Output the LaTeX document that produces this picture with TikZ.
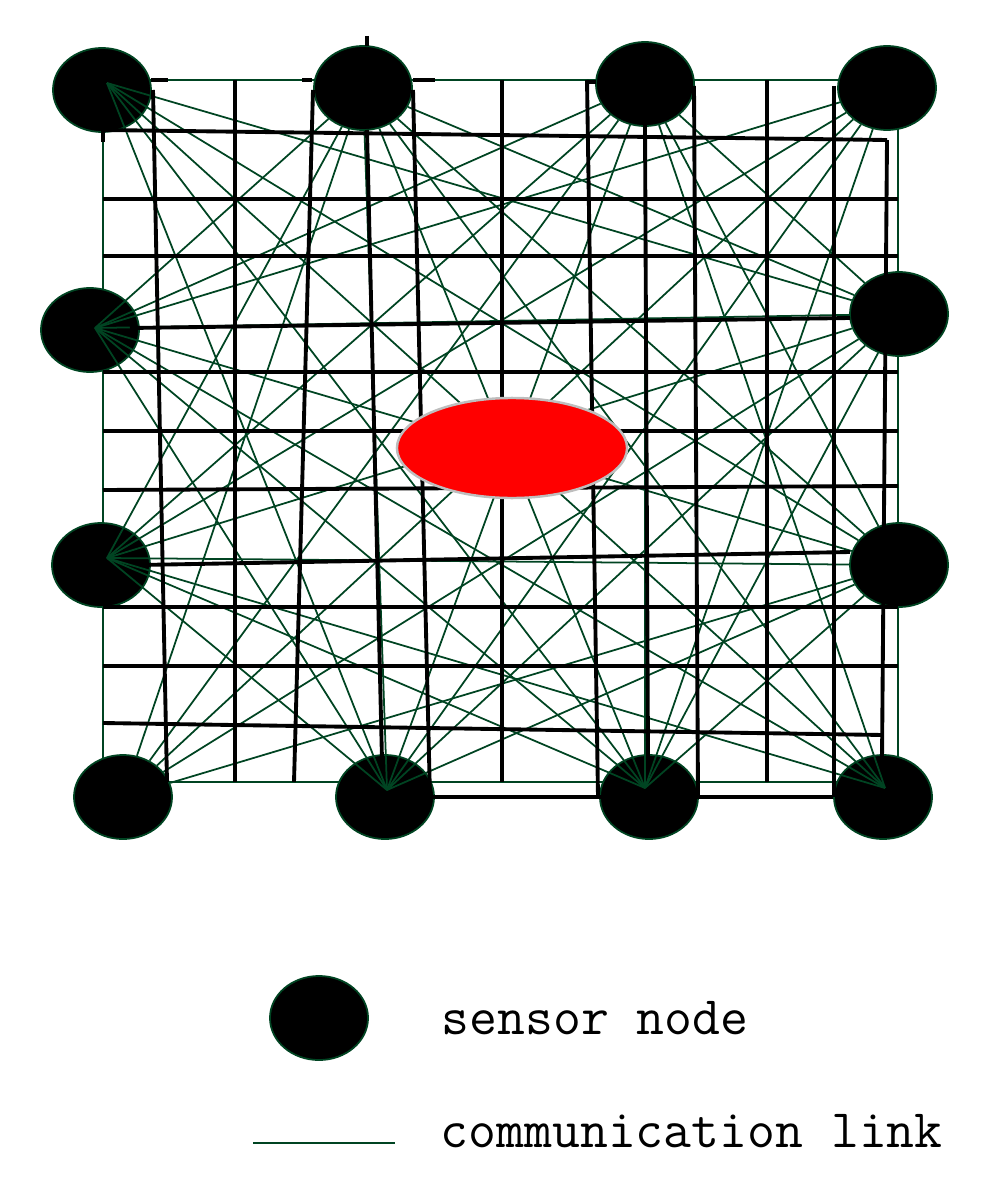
\documentclass[tikz,border=0pt]{standalone}
\usepackage{tikz}
\usetikzlibrary{positioning,shapes.geometric}
\definecolor{linkgreen}{RGB}{0,68,34}
\definecolor{rimgray}{RGB}{190,190,190}

\begin{document}
\begin{tikzpicture}[
x=0.01cm, y=-0.01cm,
sensor/.style={
  draw=linkgreen,
  ellipse,
  fill=black,
  line width=0.5pt,
  inner sep=0pt,
  minimum width=0.98cm,
  minimum height=0.84cm},
gridline/.style={line width=1.1pt},
link/.style={draw=linkgreen, line width=0.5pt},
legend/.style={font=\ttfamily\fontsize{15.4}{18}\selectfont, inner sep=0pt}
]
\useasboundingbox (0,0) rectangle (990,1197);
\draw[link] (103,80) rectangle (898,782);
% sensor nodes
\node[sensor] (T1) at (102,90) {};
\node[sensor] (T2) at (363,88) {};
\node[sensor] (T3) at (645,84) {};
\node[sensor] (T4) at (887,88) {};
\node[sensor] (L1) at (90,330) {};
\node[sensor] (L2) at (101,565) {};
\node[sensor] (R1) at (899,314) {};
\node[sensor] (R2) at (899,565) {};
\node[sensor] (B1) at (123,797) {};
\node[sensor] (B2) at (385,797) {};
\node[sensor] (B3) at (649,797) {};
\node[sensor] (B4) at (883,797) {};
\coordinate (T1c) at (107,83);
\coordinate (L1c) at (95,328);
\coordinate (L2c) at (107,558);
\coordinate (B2c) at (387,790);
\coordinate (B3c) at (645,788);
\coordinate (B4c) at (885,788);
% communication links
\foreach \a/\b in {T1c/R1, T1c/R2, T1c/B2c, T1c/B3c, T1c/B4c,
  T2/L1c, T2/L2c, T2/B1, T2/B2c, T2/B3c, T2/B4c, T2/R1, T2/R2,
  T3/L1c, T3/L2c, T3/B1, T3/B2c, T3/B3c, T3/B4c, T3/R1, T3/R2,
  T4/L1c, T4/L2c, T4/B1, T4/B2c, T4/B3c,
  L1c/R1, L1c/R2, L1c/B2c, L1c/B3c, L1c/B4c,
  L2c/R1, L2c/R2, L2c/B2c, L2c/B3c, L2c/B4c,
  R1/B1, R1/B2c, R1/B3c, R2/B1, R2/B2c, R2/B3c}
  \draw[link] (\a) -- (\b);
% grid
\foreach \y in {199,256,372,431,607,666}
  \draw[gridline] (103,\y) -- (898,\y);
\draw[gridline] (103,130) -- (887,140);
\draw[gridline] (103,490) -- (898,486);
\draw[gridline] (103,723) -- (883,735);
\draw[gridline] (130,328) -- (850,318);
\draw[gridline] (140,565) -- (850,552);
\draw[gridline] (433,797) -- (833,797);
\foreach \xa/\ya/\xb/\yb in {153/90/167/782, 235/80/235/782, 313/90/294/782,
  367/130/382/760, 413/90/430/797, 502/80/502/782, 587/80/598/797,
  645/125/648/757, 694/86/698/797, 767/80/767/782, 834/86/834/797,
  887/140/882/760}
  \draw[gridline] (\xa,\ya) -- (\xb,\yb);
\foreach \xa/\ya/\xb/\yb in {103/130/103/142, 151/80/168/80, 302/80/312/80,
  413/80/435/80, 367/36/367/46, 587/82/596/82}
  \draw[gridline] (\xa,\ya) -- (\xb,\yb);
\node[draw=rimgray, fill=red, ellipse, line width=0.7pt,
  minimum width=2.3cm, minimum height=1cm] (sink) at (512,448) {};
% legend
\node[sensor] (leg) at (319,1018) {};
\node[legend, right=0.72cm of leg] (legtext) {sensor node};
\coordinate (la) at (253,1143);
\coordinate (lb) at (395,1143);
\draw[link, line width=0.7pt] (la) -- (lb);
\node[legend, anchor=west] (linktext) at (440,1131) {communication link};
\end{tikzpicture}
\end{document}
